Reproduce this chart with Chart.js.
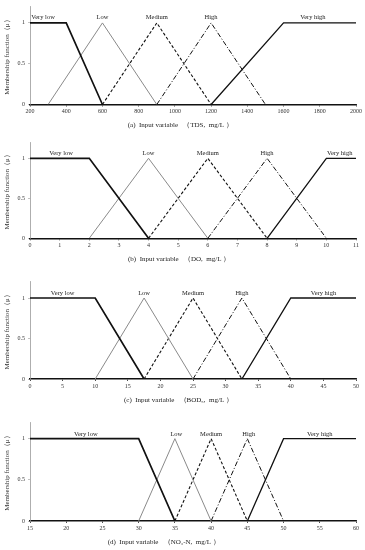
<!DOCTYPE html>
<html>
<head>
<meta charset="utf-8">
<script src="https://cdn.jsdelivr.net/npm/chart.js@4"></script>
<style>
  html, body { margin: 0; padding: 0; background: #fff; }
  body { width: 365px; height: 550px; position: relative; overflow: hidden; }
  canvas { position: absolute; left: 0; }
</style>
</head>
<body>
<canvas id="cA" width="365" height="131" style="top:0px"></canvas>
<canvas id="cB" width="365" height="133" style="top:132px"></canvas>
<canvas id="cC" width="365" height="140" style="top:266px"></canvas>
<canvas id="cD" width="365" height="142" style="top:406px"></canvas>
<script>
// ---------- Data ----------
const setNames = ["Very low", "Low", "Medium", "High", "Very high"];
const veryLowY = [1, 1, 0];
const triangleY = [0, 1, 0];
const veryHighY = [0, 1, 1];
const yTicks = [0, 0.5, 1];

// (a) TDS
const tdsVeryLowX = [200, 400, 600];
const tdsLowX = [300, 600, 900];
const tdsMediumX = [600, 900, 1200];
const tdsHighX = [900, 1200, 1500];
const tdsVeryHighX = [1200, 1600, 2000];
const tdsTicks = [200, 400, 600, 800, 1000, 1200, 1400, 1600, 1800, 2000];
const tdsLabelX = [272, 600, 900, 1200, 1762];

// (b) DO
const doVeryLowX = [0, 2, 4];
const doLowX = [2, 4, 6];
const doMediumX = [4, 6, 8];
const doHighX = [6, 8, 10];
const doVeryHighX = [8, 10, 11];
const doTicks = [0, 1, 2, 3, 4, 5, 6, 7, 8, 9, 10, 11];
const doLabelX = [1.05, 4, 6, 8, 10.45];

// (c) BOD5
const bodVeryLowX = [0, 10, 17.5];
const bodLowX = [10, 17.5, 25];
const bodMediumX = [17.5, 25, 32.5];
const bodHighX = [25, 32.5, 40];
const bodVeryHighX = [32.5, 40, 50];
const bodTicks = [0, 5, 10, 15, 20, 25, 30, 35, 40, 45, 50];
const bodLabelX = [5, 17.5, 25, 32.5, 45];

// (d) NO3-N
const no3VeryLowX = [15, 30, 35];
const no3LowX = [30, 35, 40];
const no3MediumX = [35, 40, 45];
const no3HighX = [40, 45, 50];
const no3VeryHighX = [45, 50, 60];
const no3Ticks = [15, 20, 25, 30, 35, 40, 45, 50, 55, 60];
const no3LabelX = [22.7, 35.2, 40, 45.2, 55];

// ---------- Styles ----------
const SERIF = "'Liberation Serif', 'Times New Roman', serif";
const seriesStyles = [
  { color: '#111', width: 1.7, dash: [] },
  { color: '#8a8a8a', width: 1.0, dash: [] },
  { color: '#111', width: 1.1, dash: [3, 2] },
  { color: '#111', width: 1.0, dash: [5, 2, 1, 2] },
  { color: '#111', width: 1.3, dash: [] }
];

function pts(xs, ys) { return xs.map((x, i) => ({ x: x, y: ys[i] })); }

const labelPlugin = {
  id: 'setLabels',
  afterDatasetsDraw(chart) {
    const o = chart.options.plugins.setLabels;
    const { ctx, scales } = chart;
    ctx.save();
    ctx.fillStyle = '#222';
    ctx.font = '6.5px ' + SERIF;
    ctx.textAlign = 'center';
    ctx.textBaseline = 'middle';
    o.xs.forEach((x, i) => {
      ctx.fillText(o.names[i], scales.x.getPixelForValue(x), scales.y.getPixelForValue(1) - o.dy);
    });
    // x-axis title
    ctx.font = '7px ' + SERIF;
    ctx.textAlign = 'left';
    ctx.fillText(o.title, o.titleX, chart.chartArea.bottom + 21);
    ctx.restore();
  }
};

function panel(id, T, plotTop, plotBottom, xs, ticks, labelX, title, titleX, dy) {
  const canvas = document.getElementById(id);
  const H = canvas.height;
  const S = 26;
  const padTop = plotTop - T;
  const padBottom = H - (plotBottom - T) - S;
  const datasets = xs.map((arrX, i) => {
    const ys = i === 0 ? veryLowY : (i === 4 ? veryHighY : triangleY);
    const st = seriesStyles[i];
    return {
      label: setNames[i],
      data: pts(arrX, ys),
      borderColor: st.color,
      borderWidth: st.width,
      borderDash: st.dash,
      pointRadius: 0,
      fill: false,
      tension: 0
    };
  });
  new Chart(canvas, {
    type: 'line',
    data: { datasets },
    plugins: [labelPlugin],
    options: {
      responsive: false,
      animation: false,
      devicePixelRatio: 1,
      layout: { padding: { top: padTop, bottom: padBottom, left: 0, right: 365 - 356 } },
      plugins: {
        legend: { display: false },
        tooltip: { enabled: false },
        setLabels: { xs: labelX, names: setNames, title: title, titleX: titleX, dy: dy }
      },
      scales: {
        x: {
          type: 'linear',
          min: ticks[0],
          max: ticks[ticks.length - 1],
          afterBuildTicks: s => { s.ticks = ticks.map(v => ({ value: v })); },
          afterFit: s => { s.height = S; },
          grid: { display: true, drawOnChartArea: false, tickLength: 2, color: '#222', lineWidth: 0.8 },
          border: { display: true, color: '#111', width: 1.6 },
          ticks: { font: { family: SERIF, size: 6 }, color: '#333', padding: 1.5, maxRotation: 0, autoSkip: false, callback: v => String(v) }
        },
        y: {
          type: 'linear',
          min: 0,
          max: 1.2,
          afterBuildTicks: s => { s.ticks = yTicks.map(v => ({ value: v })); },
          afterFit: s => { s.width = 30; },
          grid: { display: true, drawOnChartArea: false, tickLength: 2, color: '#999', lineWidth: 0.6 },
          border: { display: true, color: '#999', width: 0.8 },
          ticks: { font: { family: SERIF, size: 6 }, color: '#333', padding: 3, callback: v => String(v) },
          title: {
            display: true,
            text: 'Membership function（μ）',
            font: { family: SERIF, size: 7, lineHeight: 1 },
            color: '#333',
            padding: { top: 3.8, bottom: 0 }
          }
        }
      }
    }
  });
}

panel('cA', 0, 5.9, 104.5,
  [tdsVeryLowX, tdsLowX, tdsMediumX, tdsHighX, tdsVeryHighX],
  tdsTicks, tdsLabelX, '(a)  Input variable   （TDS,  mg/L ）', 127.7, 5.5);
panel('cB', 132, 142.3, 238.3,
  [doVeryLowX, doLowX, doMediumX, doHighX, doVeryHighX],
  doTicks, doLabelX, '(b)  Input variable   （DO,  mg/L ）', 128, 5.5);
panel('cC', 266, 281.8, 379,
  [bodVeryLowX, bodLowX, bodMediumX, bodHighX, bodVeryHighX],
  bodTicks, bodLabelX, '(c)  Input variable   （BOD₅,  mg/L ）', 124, 4.8);
panel('cD', 406, 422.2, 521,
  [no3VeryLowX, no3LowX, no3MediumX, no3HighX, no3VeryHighX],
  no3Ticks, no3LabelX, '(d)  Input variable   （NO₃-N,  mg/L ）', 107.7, 4.8);
</script>
</body>
</html>
